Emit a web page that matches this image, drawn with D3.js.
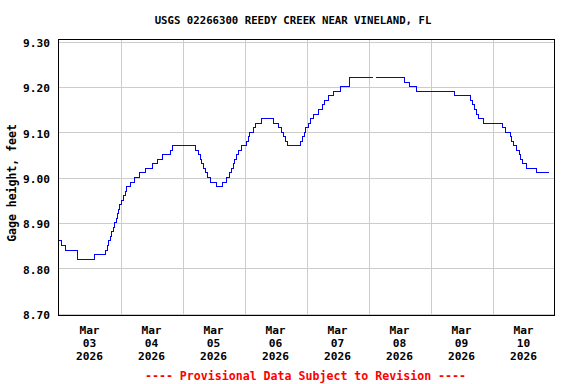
<!doctype html>
<html>
  <head>
    <meta charset="utf-8">
    <title>USGS 02266300 Reedy Creek near Vineland, FL</title>
    <script src="https://cdn.jsdelivr.net/npm/d3@7"></script>
    <style>
      body { margin: 0; background: #fff; }
      text { font-family: "DejaVu Sans Mono", monospace; font-weight: bold; }
    </style>
  </head>
  <body>
    <script>
      // hours after Mar 03 2026 00:00 where the gage height changes (null = gap)
      var hours = [0, 1.0, 2.8, 7.2, 7.5, 14.0, 18.3, 18.8, 19.4, 20.2, 20.6, 21.1, 21.7, 22.5, 23.0, 23.4, 23.8,
        24.3, 25.2, 25.9, 26.5, 27.7, 29.5, 31.5, 33.6, 36.3, 38.2, 40.3, 43.4, 44.2, 53.2, 54.1, 54.8, 55.4,
        56.2, 57.0, 57.7, 59.0, 61.0, 63.5, 65.0, 66.0, 66.8, 67.6, 68.3, 69.0, 69.6, 70.8, 72.8, 73.5, 74.1,
        75.4, 76.3, 78.4, 83.4, 85.1, 86.4, 87.0, 87.7, 88.8, 93.7, 94.3, 95.1, 95.8, 96.7, 97.7, 98.6, 100.5,
        102.1, 103.1, 104.7, 106.6, 109.2, 112.5, 121.8, 122.0, 122.9, 134.1, 135.7, 138.5, 153.3, 159.6, 160.2,
        161.0, 161.9, 162.5, 164.7, 171.8, 173.1, 174.8, 175.4, 176.3, 177.4, 178.3, 178.9, 179.7, 181.2,
        185.1, 189.8];
      var heights = [8.86, 8.85, 8.84, 8.83, 8.82, 8.83, 8.84, 8.85, 8.86, 8.87, 8.88, 8.89, 8.90, 8.91, 8.92, 8.93, 8.94,
        8.95, 8.96, 8.97, 8.98, 8.99, 9.00, 9.01, 9.02, 9.03, 9.04, 9.05, 9.06, 9.07, 9.06, 9.05, 9.04, 9.03,
        9.02, 9.01, 9.00, 8.99, 8.98, 8.99, 9.00, 9.01, 9.02, 9.03, 9.04, 9.05, 9.06, 9.07, 9.08, 9.09, 9.10,
        9.11, 9.12, 9.13, 9.12, 9.11, 9.10, 9.09, 9.08, 9.07, 9.08, 9.09, 9.10, 9.11, 9.12, 9.13, 9.14, 9.15,
        9.16, 9.17, 9.18, 9.19, 9.20, 9.22, 9.22, null, 9.22, 9.21, 9.20, 9.19, 9.18, 9.17, 9.16,
        9.15, 9.14, 9.13, 9.12, 9.11, 9.10, 9.09, 9.08, 9.07, 9.06, 9.05, 9.04, 9.03, 9.02,
        9.01, 9.01];

      var yTicks = [8.70, 8.80, 8.90, 9.00, 9.10, 9.20, 9.30];
      var dayLabels = ['03', '04', '05', '06', '07', '08', '09', '10'];

      var title = 'USGS 02266300 REEDY CREEK NEAR VINELAND, FL';
      var yTitle = 'Gage height, feet';
      var note = '---- Provisional Data Subject to Revision ----';

      var width = 576, height = 384;
      var start = Date.UTC(2026, 2, 3);
      var end = Date.UTC(2026, 2, 11);

      var x = d3.scaleUtc().domain([start, end]).range([58.5, 554.5]);
      var y = d3.scaleLinear().domain([8.70, 9.30]).range([313.5, 41.5]);

      var svg = d3.select('body').append('svg')
        .attr('width', width)
        .attr('height', height);

      // grid
      var days = d3.utcDay.range(start + 864e5, end);
      svg.append('g').selectAll('line').data(days).enter().append('line')
        .attr('x1', function (d) { return Math.round(x(d)) + 0.5; })
        .attr('x2', function (d) { return Math.round(x(d)) + 0.5; })
        .attr('y1', 39).attr('y2', 316)
        .attr('stroke', '#cccccc').attr('shape-rendering', 'crispEdges');

      svg.append('g').selectAll('line').data(yTicks).enter().append('line')
        .attr('x1', 58).attr('x2', 555)
        .attr('y1', function (d) { return Math.round(y(d)) + 0.5; })
        .attr('y2', function (d) { return Math.round(y(d)) + 0.5; })
        .attr('stroke', '#cccccc').attr('shape-rendering', 'crispEdges');

      // data line
      var data = hours.map(function (h, i) { return { t: start + h * 3600e3, v: heights[i] }; });
      var line = d3.line()
        .defined(function (d) { return d.v !== null; })
        .x(function (d) { return x(d.t); })
        .y(function (d) { return y(d.v); })
        .curve(d3.curveStepAfter);

      svg.append('path').datum(data)
        .attr('d', line)
        .attr('fill', 'none')
        .attr('stroke', '#0000ff')
        .attr('stroke-width', 1)
        .attr('shape-rendering', 'crispEdges');

      // frame
      svg.append('rect')
        .attr('x', 58.5).attr('y', 39.5)
        .attr('width', 496).attr('height', 276)
        .attr('fill', 'none').attr('stroke', '#000')
        .attr('shape-rendering', 'crispEdges');

      // y axis labels
      svg.append('g').selectAll('text').data(yTicks).enter().append('text')
        .attr('x', 50)
        .attr('y', function (d) { return y(d) + 5.5; })
        .attr('text-anchor', 'end')
        .attr('font-size', 11.2)
        .text(function (d) { return d3.format('.2f')(d); });

      svg.append('text')
        .attr('transform', 'translate(15.5,183) rotate(-90)')
        .attr('text-anchor', 'middle')
        .attr('font-size', 11.5)
        .text(yTitle);

      // x axis labels, centred on noon of each day
      var labelG = svg.append('g').selectAll('text').data(dayLabels).enter().append('text')
        .attr('text-anchor', 'middle')
        .attr('font-size', 11.2)
        .attr('transform', function (d, i) { return 'translate(' + x(start + (i + 0.5) * 864e5) + ',0)'; });
      labelG.append('tspan').attr('x', 0).attr('y', 334).text('Mar');
      labelG.append('tspan').attr('x', 0).attr('y', 347).text(function (d) { return d; });
      labelG.append('tspan').attr('x', 0).attr('y', 360).text('2026');

      svg.append('text')
        .attr('x', 293).attr('y', 24)
        .attr('text-anchor', 'middle')
        .attr('font-size', 10.7)
        .text(title);

      svg.append('text')
        .attr('x', 305.5).attr('y', 379.5)
        .attr('text-anchor', 'middle')
        .attr('font-size', 11.6)
        .attr('fill', '#ff0000')
        .text(note);
    </script>
  </body>
</html>
